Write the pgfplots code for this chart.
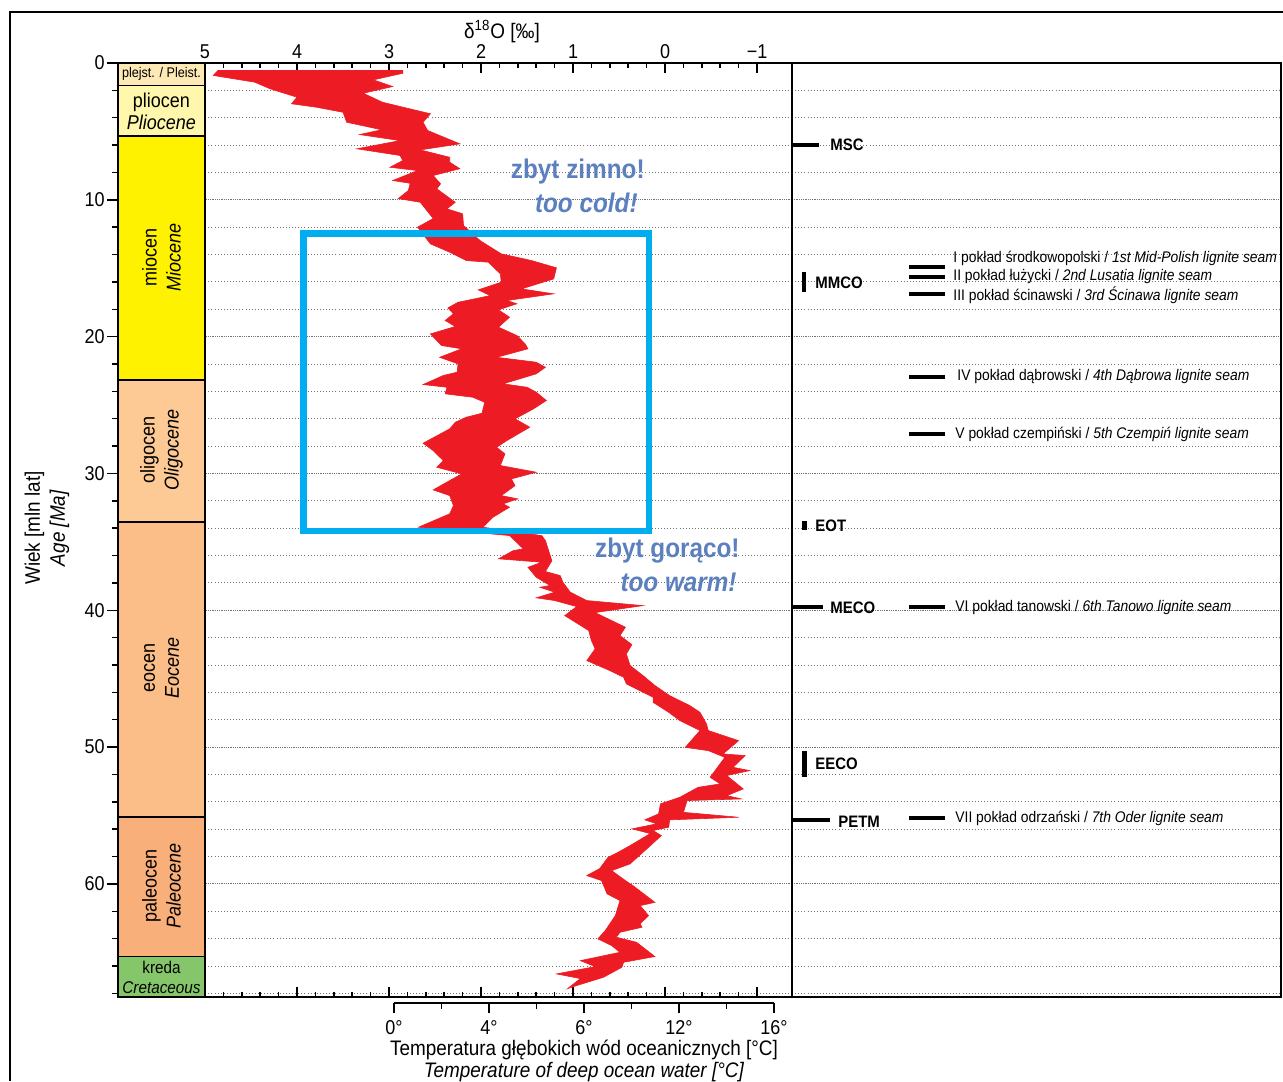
\documentclass[border=0pt]{standalone}
\usepackage{pgfplots}
\usepackage{pgfplotstable}
\pgfplotsset{compat=1.18}
\usepackage{fontspec}
\setmainfont{Liberation Sans}[FakeStretch=0.9]
\definecolor{dred}{HTML}{ED1C24}
\definecolor{boxblue}{HTML}{00AEEF}
\definecolor{annot}{HTML}{5B7FBF}
\definecolor{cPle}{HTML}{FCE9B6}
\definecolor{cPli}{HTML}{FFF8AC}
\definecolor{cMio}{HTML}{FFF200}
\definecolor{cOli}{HTML}{FDC995}
\definecolor{cEoc}{HTML}{FBBE88}
\definecolor{cPal}{HTML}{F9AF7A}
\definecolor{cKre}{HTML}{86C66A}

% outline of the d18O band: cold (left) edge top->bottom, then warm (right) edge bottom->top
\pgfplotstableread{
d18O age
4.86 0.55
4.91 0.91
4.46 1.40
4.29 1.89
4.00 2.50
4.06 2.98
3.79 3.23
3.50 3.60
3.48 3.96
3.46 4.33
3.08 4.88
3.32 5.23
2.88 5.67
3.35 6.27
2.88 6.76
2.85 7.13
2.99 7.62
2.69 7.86
2.96 8.59
2.77 8.79
2.79 9.32
2.90 9.91
2.66 10.18
2.52 11.37
2.69 12.00
2.55 13.22
2.34 13.83
2.16 14.44
1.92 14.56
1.79 15.41
1.78 16.02
2.03 16.58
1.90 17.00
2.25 17.49
2.36 17.90
2.30 18.33
2.39 18.82
2.28 19.26
2.55 19.80
2.43 20.65
2.21 20.89
2.45 21.51
2.25 21.99
2.26 22.60
2.41 22.84
2.63 23.50
2.37 23.70
2.39 24.18
2.09 24.43
1.96 24.80
1.99 25.60
2.16 25.89
2.28 26.26
2.34 26.74
2.63 27.79
2.52 28.33
2.41 29.06
2.48 29.55
2.21 30.03
2.52 31.20
2.34 31.62
2.30 32.35
2.34 32.95
2.68 33.93
1.69 34.54
1.54 35.51
1.65 35.64
1.81 36.24
1.34 36.49
1.49 36.86
1.40 37.59
1.25 38.19
1.36 38.32
1.20 38.68
1.40 39.09
1.20 39.29
0.96 39.73
1.09 40.39
0.83 41.48
0.80 42.22
0.76 42.82
0.85 43.68
0.60 44.41
0.45 44.90
0.42 45.38
0.13 46.36
0.13 46.73
-0.04 47.46
-0.16 48.06
-0.38 48.79
-0.22 50.02
-0.47 50.26
-0.65 50.75
-0.49 52.21
-0.60 52.69
-0.36 52.94
-0.16 53.67
0.05 54.15
0.07 54.88
0.22 55.32
0.09 55.61
0.36 55.98
0.16 56.32
0.38 57.20
0.51 57.69
0.62 58.06
0.71 58.88
0.85 59.39
0.69 59.76
0.63 60.73
0.49 61.22
0.54 62.32
0.65 63.41
0.73 64.02
0.58 64.51
0.49 65.00
0.92 65.61
0.76 66.05
1.18 66.58
0.92 66.92
1.06 67.66
0.96 67.43
0.67 66.83
0.47 66.10
0.45 65.73
0.11 65.31
0.31 64.27
0.53 63.90
0.49 63.54
0.25 63.17
0.27 62.92
0.18 62.32
0.27 61.59
0.11 61.35
0.35 60.12
0.43 59.76
0.58 59.03
0.38 58.54
0.18 57.33
0.04 56.47
0.13 56.10
-0.04 55.86
-0.05 55.32
-0.80 55.13
-0.20 54.77
-0.24 53.91
-0.83 53.79
-0.67 53.55
-0.85 53.06
-0.67 52.08
-0.92 51.72
-0.74 51.48
-0.87 50.62
-0.63 50.50
-0.80 49.53
-0.47 48.79
-0.45 48.30
-0.38 47.46
-0.27 46.97
-0.05 46.24
0.11 45.50
0.24 44.77
0.38 44.04
0.42 43.19
0.36 42.51
0.49 41.85
0.43 41.24
0.76 40.17
0.24 39.66
0.85 39.29
1.03 38.68
1.11 37.95
1.14 37.46
1.30 37.17
1.23 36.38
1.30 34.91
1.34 34.54
1.98 33.93
1.87 33.20
1.69 32.47
1.76 32.22
1.60 31.86
1.78 31.62
1.63 30.89
1.67 30.40
1.40 29.91
1.79 29.42
1.74 28.57
1.83 28.09
1.72 27.60
1.47 26.62
1.63 26.01
1.43 25.28
1.29 24.67
1.40 24.06
1.50 23.70
1.76 23.45
1.40 22.72
1.30 22.24
1.40 21.87
1.83 21.51
1.49 20.89
1.52 20.53
1.61 19.92
1.81 19.31
1.69 18.58
1.81 18.04
1.61 17.60
1.72 17.36
1.21 16.87
1.56 16.51
1.21 15.78
1.18 14.97
1.45 14.44
1.78 13.95
2.01 12.98
2.19 11.88
2.20 11.02
2.37 10.66
2.28 10.18
2.48 9.20
2.44 8.83
2.52 8.22
2.23 7.73
2.34 7.25
2.34 6.89
2.66 6.35
2.23 5.91
2.58 4.93
2.63 4.33
2.55 3.71
3.07 2.87
3.28 2.21
2.96 1.72
3.17 1.23
2.85 0.75
2.85 0.55
}\curve

\pgfplotsset{
  agegrid/.style={
    ymin=0, ymax=68.27, y dir=reverse,
    ytick={0,10,...,60},
    minor ytick={2,4,6,8,12,14,16,18,22,24,26,28,32,34,36,38,42,44,46,48,52,54,56,58,62,64,66,68},
    ymajorgrids, yminorgrids,
    major grid style={black!55, line width=0.45pt, dash pattern=on 0.45pt off 0.45pt},
    minor grid style={black!55, line width=0.45pt, dash pattern=on 0.45pt off 1.1pt},
    yticklabels={,,,,,,,}, y tick style={draw=none},
  },
}

\begin{document}
\begin{tikzpicture}
\useasboundingbox (0pt,0pt) rectangle (641.5pt,-540.5pt);

% ---------------- main d18O panel ----------------
\begin{axis}[agegrid,
  at={(102.5pt,-31.5pt)}, anchor=north west, scale only axis,
  width=293.5pt, height=467pt,
  xmin=-1.38, xmax=5, x dir=reverse,
  xtick={5,4,3,2,1,0,-1}, xticklabels={5,4,3,2,1,0,−1},
  minor x tick num=4,
  xticklabel pos=upper,
  tick align=inside,
  major tick length=5pt, minor tick length=2.5pt,
  x tick style={black, line width=0.75pt},
  axis line style={line width=0.75pt},
  tick label style={font=\fontsize{10}{12}\selectfont},
  xticklabel style={yshift=-1.5pt},
]
\addplot[fill=dred, draw=dred, line width=0.3pt] table[x=d18O, y=age] {\curve} -- cycle;
\addplot[boxblue, line width=3.3pt, line join=miter] coordinates {(3.929,12.44) (0.174,12.44) (0.174,34.20) (3.929,34.20)} -- cycle;
\end{axis}

% ---------------- stratigraphic column ----------------
\begin{axis}[
  at={(59pt,-31.5pt)}, anchor=north west, scale only axis,
  width=43.5pt, height=467pt,
  xmin=0, xmax=1, ymin=0, ymax=68.27, y dir=reverse,
  xtick=\empty,
  ytick={0,10,...,60}, yticklabels={0,10,20,30,40,50,60},
  minor ytick={2,4,6,8,12,14,16,18,22,24,26,28,32,34,36,38,42,44,46,48,52,54,56,58,62,64,66,68},
  ytick pos=left, tick align=outside,
  major tick length=5.5pt, minor tick length=3pt,
  tick style={black, line width=0.75pt},
  axis line style={line width=0.75pt},
  tick label style={font=\fontsize{10}{12}\selectfont},
  yticklabel style={inner sep=1pt},
  axis on top,
]
\addplot[fill=cPle, draw=black, line width=0.75pt] coordinates {(0,0) (1,0) (1,1.65) (0,1.65)} -- cycle;
\addplot[fill=cPli, draw=black, line width=0.75pt] coordinates {(0,1.65) (1,1.65) (1,5.33) (0,5.33)} -- cycle;
\addplot[fill=cMio, draw=black, line width=0.75pt] coordinates {(0,5.33) (1,5.33) (1,23.16) (0,23.16)} -- cycle;
\addplot[fill=cOli, draw=black, line width=0.75pt] coordinates {(0,23.16) (1,23.16) (1,33.55) (0,33.55)} -- cycle;
\addplot[fill=cEoc, draw=black, line width=0.75pt] coordinates {(0,33.55) (1,33.55) (1,55.1) (0,55.1)} -- cycle;
\addplot[fill=cPal, draw=black, line width=0.75pt] coordinates {(0,55.1) (1,55.1) (1,65.3) (0,65.3)} -- cycle;
\addplot[fill=cKre, draw=black, line width=0.75pt] coordinates {(0,65.3) (1,65.3) (1,68.27) (0,68.27)} -- cycle;
\end{axis}

% ---------------- right panel: events and lignite seams ----------------
\begin{axis}[agegrid,
  at={(396pt,-31.5pt)}, anchor=north west, scale only axis,
  width=244.5pt, height=467pt,
  xmin=792, xmax=1281, xtick=\empty,
  axis line style={line width=0.75pt},
  clip=false,
]
% climatic events
\addplot[black, line width=2pt] coordinates {(792,5.96) (819,5.96)};   % MSC
\addplot[black, line width=2.1pt] coordinates {(804,15.29) (804,16.75)}; % MMCO
\addplot[black, line width=2.1pt] coordinates {(804.5,33.5) (804.5,34.1)}; % EOT
\addplot[black, line width=2pt] coordinates {(792,39.78) (822.7,39.78)}; % MECO
\addplot[black, line width=2.1pt] coordinates {(804.5,50.26) (804.5,52.21)}; % EECO
\addplot[black, line width=2pt] coordinates {(793,55.32) (830,55.32)}; % PETM
% lignite seams
\addplot[black, line width=2pt] coordinates {(909,14.93) (945,14.93)};
\addplot[black, line width=2pt] coordinates {(909,15.61) (945,15.61)};
\addplot[black, line width=2pt] coordinates {(909,16.87) (945,16.87)};
\addplot[black, line width=2pt] coordinates {(909,22.97) (945,22.97)};
\addplot[black, line width=2pt] coordinates {(909,27.11) (945,27.11)};
\addplot[black, line width=2pt] coordinates {(909,39.78) (945,39.78)};
\addplot[black, line width=2pt] coordinates {(909,55.17) (945,55.17)};
\end{axis}

% ---------------- temperature scale ----------------
\begin{axis}[
  at={(197pt,-501.5pt)}, anchor=south west, scale only axis,
  width=190pt, height=1pt,
  xmin=0, xmax=16, ymin=0, ymax=1,
  axis x line*=bottom, axis y line=none,
  xtick={0,4,8,12,16}, xticklabels={0°,4°,6°,12°,16°},
  minor xtick={2,6,10,14},
  tick align=outside,
  major tick length=5pt, minor tick length=3pt,
  x tick style={black, line width=0.75pt},
  axis line style={line width=0.75pt},
  tick label style={font=\fontsize{10}{12}\selectfont},
  xlabel={Temperatura głębokich wód oceanicznych [°C]\\\textit{Temperature of deep ocean water [°C]}},
  xlabel style={align=center, font=\fontsize{10.5}{11}\selectfont, yshift=4pt},
]
\end{axis}

% ---------------- frame and texts (pixel coordinates) ----------------
\begin{scope}[x=0.5pt, y=-0.5pt]
\draw[line width=0.75pt] (10,1081) -- (10,12) -- (1283,12);

\node[font=\fontsize{10.5}{12}\selectfont, inner sep=0] at (502,32) {δ\textsuperscript{18}O [‰]};
\node[rotate=90, align=center, font=\fontsize{10.5}{12.5}\selectfont, inner sep=0] at (47,528) {Wiek [mln lat]\\\textit{Age [Ma]}};

\node[font=\fontsize{7}{8}\selectfont, inner sep=0] at (161.5,73.5) {plejst. / Pleist.};
\node[align=center, font=\fontsize{10}{11}\selectfont, inner sep=0] at (161.5,111) {pliocen\\\textit{Pliocene}};
\node[rotate=90, align=center, font=\fontsize{10}{12}\selectfont, inner sep=0] at (161.5,257) {miocen\\\textit{Miocene}};
\node[rotate=90, align=center, font=\fontsize{10}{12}\selectfont, inner sep=0] at (161.5,450) {oligocen\\\textit{Oligocene}};
\node[rotate=90, align=center, font=\fontsize{10}{12}\selectfont, inner sep=0] at (161.5,668) {eocen\\\textit{Eocene}};
\node[rotate=90, align=center, font=\fontsize{10}{12}\selectfont, inner sep=0] at (161.5,886) {paleocen\\\textit{Paleocene}};
\node[align=center, font=\fontsize{8.5}{10}\selectfont, inner sep=0] at (161.5,977) {kreda\\\textit{Cretaceous}};

\begin{scope}[font=\bfseries\fontsize{13.5}{15}\selectfont, text=annot, inner sep=0]
\node[anchor=east] at (645,172) {zbyt zimno!};
\node[anchor=east] at (638,203) {\itshape too cold!};
\node[anchor=east] at (740,551) {zbyt gorąco!};
\node[anchor=east] at (737,582) {\itshape too warm!};
\end{scope}

\begin{scope}[font=\bfseries\fontsize{8.3}{10}\selectfont, inner sep=0]
\node[anchor=west] at (830,145) {MSC};
\node[anchor=west] at (815,283) {MMCO};
\node[anchor=west] at (815,526) {EOT};
\node[anchor=west] at (830,608) {MECO};
\node[anchor=west] at (815,764) {EECO};
\node[anchor=west] at (838,822) {PETM};
\end{scope}

\begin{scope}[font=\fontsize{7.7}{8}\selectfont, inner sep=0]
\node[anchor=west] at (953,258) {I pokład środkowopolski / \textit{1st Mid-Polish lignite seam}};
\node[anchor=west] at (953,277) {II pokład łużycki / \textit{2nd Lusatia lignite seam}};
\node[anchor=west] at (953,295) {III pokład ścinawski / \textit{3rd Ścinawa lignite seam}};
\node[anchor=west] at (957,377) {IV pokład dąbrowski / \textit{4th Dąbrowa lignite seam}};
\node[anchor=west] at (955,434) {V pokład czempiński / \textit{5th Czempiń lignite seam}};
\node[anchor=west] at (955,608) {VI pokład tanowski / \textit{6th Tanowo lignite seam}};
\node[anchor=west] at (955,818) {VII pokład odrzański / \textit{7th Oder lignite seam}};
\end{scope}
\end{scope}
\end{tikzpicture}
\end{document}
